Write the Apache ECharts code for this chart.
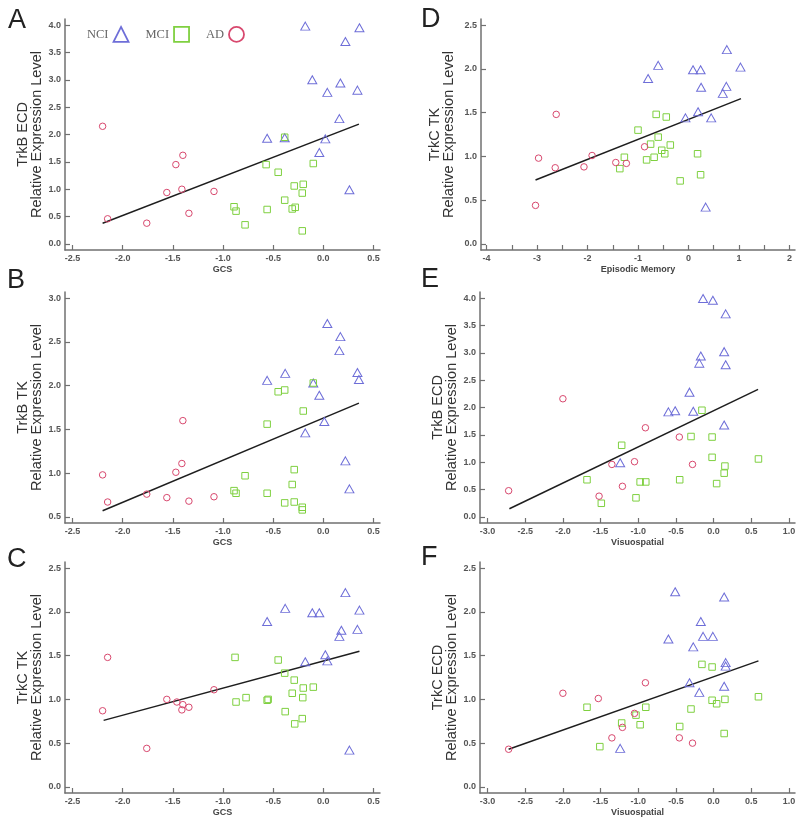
<!DOCTYPE html>
<html><head><meta charset="utf-8">
<script src="https://cdn.jsdelivr.net/npm/echarts@6/dist/echarts.min.js"></script>
<style>html,body{margin:0;padding:0;background:#fff}#c{width:800px;height:822px}</style>
</head><body><div id="c"></div><script>
// ---------- DATA ----------
const nciA = [[-0.18,3.98],[0.36,3.95],[0.22,3.70],[-0.11,3.00],[0.17,2.94],[0.04,2.77],[0.34,2.81],[0.16,2.29],[-0.56,1.93],[-0.385,1.94],[0.02,1.92],[-0.04,1.67],[0.26,0.99]];
const mciA = [[-0.57,1.45],[-0.45,1.31],[-0.10,1.47],[-0.29,1.06],[-0.20,1.09],[-0.21,0.93],[-0.385,0.80],[-0.89,0.68],[-0.87,0.60],[-0.56,0.63],[-0.31,0.64],[-0.28,0.67],[-0.78,0.35],[-0.21,0.24],[-0.385,1.95]];
const adA  = [[-2.20,2.15],[-2.15,0.46],[-1.76,0.38],[-1.56,0.94],[-1.47,1.45],[-1.40,1.62],[-1.41,1.00],[-1.34,0.56],[-1.09,0.96]];
const fitA = [[-2.20,0.38],[0.355,2.19]];

const nciB = [[0.04,2.71],[0.17,2.56],[0.16,2.40],[0.34,2.15],[0.355,2.07],[-0.56,2.06],[-0.38,2.14],[-0.10,2.03],[-0.04,1.89],[0.01,1.59],[-0.18,1.46],[0.22,1.14],[0.26,0.82]];
const mciB = [[-0.45,1.93],[-0.385,1.95],[-0.10,2.03],[-0.20,1.71],[-0.56,1.56],[-0.29,1.04],[-0.78,0.97],[-0.31,0.87],[-0.89,0.80],[-0.87,0.77],[-0.56,0.77],[-0.385,0.66],[-0.29,0.67],[-0.21,0.61],[-0.21,0.58]];
const adB  = [[-2.20,0.98],[-2.15,0.67],[-1.76,0.76],[-1.56,0.72],[-1.47,1.01],[-1.41,1.11],[-1.40,1.60],[-1.34,0.68],[-1.09,0.73]];
const fitB = [[-2.20,0.57],[0.355,1.80]];

const nciC = [[0.22,2.22],[-0.38,2.04],[0.36,2.02],[-0.11,1.99],[-0.04,1.99],[-0.56,1.89],[0.18,1.79],[0.34,1.80],[0.16,1.72],[0.02,1.51],[0.04,1.44],[-0.18,1.43],[0.26,0.42]];
const mciC = [[-0.88,1.48],[-0.45,1.45],[-0.385,1.30],[-0.29,1.22],[-0.31,1.07],[-0.20,1.13],[-0.10,1.14],[-0.205,1.02],[-0.77,1.02],[-0.87,0.97],[-0.56,0.99],[-0.55,1.00],[-0.38,0.86],[-0.21,0.78],[-0.285,0.72]];
const adC  = [[-2.20,0.87],[-2.15,1.48],[-1.76,0.44],[-1.56,1.00],[-1.46,0.97],[-1.40,0.94],[-1.41,0.88],[-1.34,0.91],[-1.09,1.11]];
const fitC = [[-2.19,0.76],[0.36,1.55]];

const nciD = [[0.76,2.22],[-0.60,2.04],[1.03,2.02],[0.09,1.99],[0.24,1.99],[-0.80,1.89],[0.25,1.79],[0.75,1.80],[0.68,1.72],[0.19,1.51],[-0.06,1.44],[0.45,1.44],[0.34,0.42]];
const mciD = [[-0.64,1.48],[-0.44,1.45],[-1.00,1.30],[-0.60,1.22],[-0.75,1.14],[-0.36,1.13],[-0.53,1.07],[-0.47,1.03],[-0.68,0.99],[-0.83,0.96],[-1.27,0.99],[-1.36,0.86],[0.18,1.03],[0.24,0.79],[-0.165,0.72]];
const adD  = [[-3.03,0.44],[-2.97,0.98],[-2.64,0.87],[-2.62,1.48],[-2.07,0.88],[-1.91,1.01],[-0.87,1.11],[-1.44,0.93],[-1.23,0.92]];
const fitD = [[-3.03,0.73],[1.04,1.66]];

const nciE = [[-0.14,3.99],[-0.01,3.96],[0.16,3.71],[0.14,3.02],[-0.17,2.94],[0.16,2.78],[-0.19,2.81],[-0.32,2.28],[-0.60,1.92],[-0.51,1.94],[-0.27,1.93],[0.14,1.68],[-1.24,0.99]];
const mciE = [[-1.68,0.68],[-1.49,0.25],[-1.22,1.31],[-0.155,1.95],[-0.30,1.47],[-0.02,1.46],[-0.02,1.09],[0.595,1.06],[0.15,0.93],[0.14,0.80],[0.04,0.61],[-0.975,0.64],[-0.90,0.64],[-0.45,0.68],[-1.03,0.35]];
const adE  = [[-2.72,0.48],[-2.00,2.16],[-1.52,0.38],[-0.905,1.63],[-0.455,1.46],[-1.35,0.96],[-1.05,1.01],[-0.28,0.96],[-1.21,0.56]];
const fitE = [[-2.71,0.15],[0.59,2.33]];

const nciF = [[-0.51,2.23],[0.14,2.17],[-0.17,1.89],[-0.14,1.72],[-0.01,1.72],[-0.60,1.69],[-0.27,1.60],[0.16,1.42],[0.16,1.38],[-0.32,1.19],[0.14,1.15],[-0.19,1.08],[-1.24,0.44]];
const mciF = [[-1.68,0.91],[-1.51,0.46],[-1.22,0.73],[-1.03,0.82],[-0.975,0.71],[-0.90,0.91],[-0.45,0.69],[-0.30,0.89],[-0.155,1.40],[-0.02,1.37],[-0.02,0.99],[0.04,0.95],[0.15,1.00],[0.14,0.61],[0.595,1.03]];
const adF  = [[-2.72,0.43],[-2.00,1.07],[-1.53,1.01],[-0.905,1.19],[-1.05,0.84],[-1.21,0.68],[-1.35,0.56],[-0.455,0.56],[-0.28,0.50]];
const fitF = [[-2.72,0.43],[0.595,1.44]];

// tick labels
const gcsTicks  = [-2.5,-2,-1.5,-1,-0.5,0,0.5];
const visTicks  = [-3,-2.5,-2,-1.5,-1,-0.5,0,0.5,1];
const emLabels  = [-4,-3,-2,-1,0,1,2];
const emTicks   = [-4,-3.5,-3,-2.5,-2,-1.5,-1,-0.5,0,0.5,1,1.5,2];
const ecdTicks  = [0,0.5,1,1.5,2,2.5,3,3.5,4];
const tkbTicks  = [0.5,1,1.5,2,2.5,3];
const trkcTicks = [0,0.5,1,1.5,2,2.5];

const letters = ['A','B','C','D','E','F'];
const yNames = ['TrkB ECD','TrkB TK','TrkC TK','TrkC TK','TrkB ECD','TrkC ECD'];
const xNames = ['GCS','GCS','GCS','Episodic Memory','Visuospatial','Visuospatial'];
const groupNames = ['NCI','MCI','AD'];

// ---------- LAYOUT ----------
const panels = [
  {nci:nciA, mci:mciA, ad:adA, fit:fitA, grid:{left:65, top:19, width:315}, x:[-2.575,0.565], y:[-0.11,4.11], xl:gcsTicks, xt:gcsTicks, yt:ecdTicks, dec:true, gap:20, lt:[8,7]},
  {nci:nciB, mci:mciB, ad:adB, fit:fitB, grid:{left:65, top:292, width:315}, x:[-2.575,0.565], y:[0.43,3.07], xl:gcsTicks, xt:gcsTicks, yt:tkbTicks, dec:true, gap:20, lt:[7,267]},
  {nci:nciC, mci:mciC, ad:adC, fit:fitC, grid:{left:65, top:562, width:315}, x:[-2.575,0.565], y:[-0.07,2.57], xl:gcsTicks, xt:gcsTicks, yt:trkcTicks, dec:true, gap:20, lt:[7,546]},
  {nci:nciD, mci:mciD, ad:adD, fit:fitD, grid:{left:481, top:19, width:314}, x:[-4.11,2.11], y:[-0.07,2.57], xl:emLabels, xt:emTicks, yt:trkcTicks, dec:false, gap:25, lt:[421,6]},
  {nci:nciE, mci:mciE, ad:adE, fit:fitE, grid:{left:480, top:292, width:315}, x:[-3.1,1.08], y:[-0.11,4.11], xl:visTicks, xt:visTicks, yt:ecdTicks, dec:true, gap:20, lt:[421,266]},
  {nci:nciF, mci:mciF, ad:adF, fit:fitF, grid:{left:480, top:562, width:315}, x:[-3.1,1.08], y:[-0.07,2.57], xl:visTicks, xt:visTicks, yt:trkcTicks, dec:true, gap:20, lt:[421,544]}
];

const axisColor = '#707070';
const colors = {NCI:'#6e6ed8', MCI:'#7fd040', AD:'#d8486e'};
const symbols = {NCI:'triangle', MCI:'rect', AD:'circle'};
const sizes = {NCI:[9,8], MCI:6.5, AD:6.5};

const grids = [], xAxes = [], yAxes = [], series = [], graphics = [];
panels.forEach((p, i) => {
  grids.push({left:p.grid.left, top:p.grid.top, width:p.grid.width, height:231, outerBoundsMode:'none', containLabel:false});
  xAxes.push({
    gridIndex:i, type:'value', min:p.x[0], max:p.x[1],
    name:xNames[i], nameLocation:'middle', nameGap:15,
    nameTextStyle:{fontSize:9, fontWeight:'bold', color:'#444', fontFamily:'Liberation Sans'},
    axisLine:{onZero:false, lineStyle:{color:axisColor, width:1.5}},
    axisTick:{inside:true, length:5, customValues:p.xt, lineStyle:{color:axisColor, width:1.2}},
    axisLabel:{customValues:p.xl, margin:4, fontSize:9, fontWeight:'bold', color:'#555', fontFamily:'Liberation Sans',
      formatter: v => p.dec ? v.toFixed(1) : String(v)},
    splitLine:{show:false}
  });
  yAxes.push({
    gridIndex:i, type:'value', min:p.y[0], max:p.y[1],
    name:yNames[i] + '\nRelative Expression Level', nameLocation:'middle', nameGap:p.gap,
    nameTextStyle:{fontSize:14.5, color:'#333', lineHeight:14, fontFamily:'Liberation Sans'},
    axisLine:{onZero:false, lineStyle:{color:axisColor, width:1.5}},
    axisTick:{inside:true, length:5, customValues:p.yt, lineStyle:{color:axisColor, width:1.2}},
    axisLabel:{customValues:p.yt, margin:4, fontSize:9, fontWeight:'bold', color:'#555', fontFamily:'Liberation Sans',
      formatter: v => v.toFixed(1)},
    splitLine:{show:false}
  });
  const groups = {NCI:p.nci, MCI:p.mci, AD:p.ad};
  groupNames.forEach(g => {
    series.push({
      type:'scatter', name:g, xAxisIndex:i, yAxisIndex:i, data:groups[g],
      symbol:symbols[g], symbolSize:sizes[g],
      itemStyle:{color:'rgba(255,255,255,0)', borderColor:colors[g], borderWidth:1, opacity:1},
      emphasis:{disabled:true}, z:3
    });
  });
  series.push({
    type:'line', name:'fit'+i, xAxisIndex:i, yAxisIndex:i, data:p.fit,
    symbol:'none', lineStyle:{color:'#1e1e1e', width:1.5}, z:2, silent:true
  });
  graphics.push({type:'text', left:p.lt[0], top:p.lt[1],
    style:{text:letters[i], fontSize:27, fontFamily:'Liberation Sans', fill:'#222'}});
});

const chart = echarts.init(document.getElementById('c'), null, {renderer:'canvas'});
chart.setOption({
  animation:false,
  backgroundColor:'#fff',
  grid:grids, xAxis:xAxes, yAxis:yAxes, series:series,
  graphic:graphics,
  legend:{
    data:groupNames, left:87, top:26, padding:0, orient:'horizontal', align:'right',
    itemWidth:15, itemHeight:15, itemGap:16,
    itemStyle:{borderWidth:1.8},
    textStyle:{fontFamily:'Liberation Serif', fontSize:12.5, color:'#666'},
    selectedMode:false
  }
});
</script></body></html>
